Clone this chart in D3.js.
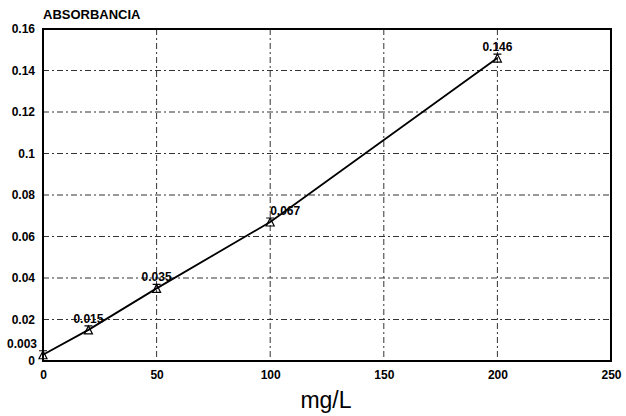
<!DOCTYPE html>
<html>
<head>
<meta charset="utf-8">
<script src="https://cdn.jsdelivr.net/npm/d3@7"></script>
<style>
  body { margin: 0; background: #fff; }
  svg { display: block; font-family: Arial, "Liberation Sans", sans-serif; }
</style>
</head>
<body>
<svg id="chart" width="626" height="416"></svg>
<script>
// data
const conc = [0, 20, 50, 100, 200];          // mg/L
const absorb = [0.003, 0.015, 0.035, 0.067, 0.146];
const pointLabels = ['0.003', '0.015', '0.035', '0.067', '0.146'];
const xTicks = [0, 50, 100, 150, 200, 250];
const yTicks = [0, 0.02, 0.04, 0.06, 0.08, 0.1, 0.12, 0.14, 0.16];

const svg = d3.select('#chart');
const plotLeft = 43, plotRight = 611, plotTop = 29, plotBottom = 361;

const x = d3.scaleLinear().domain([0, 250]).range([plotLeft, plotRight]);
const y = d3.scaleLinear().domain([0, 0.16]).range([plotBottom, plotTop]);

// grid
svg.append('g').selectAll('line').data(yTicks.slice(1, -1)).join('line')
	.attr('x1', plotLeft).attr('x2', plotRight)
	.attr('y1', d => y(d)).attr('y2', d => y(d))
	.attr('stroke', '#333').attr('stroke-width', 1).attr('stroke-dasharray', '6,3,2,3');
svg.append('g').selectAll('line').data(xTicks.slice(1, -1)).join('line')
	.attr('y1', plotTop).attr('y2', plotBottom)
	.attr('x1', d => x(d)).attr('x2', d => x(d))
	.attr('stroke', '#333').attr('stroke-width', 1).attr('stroke-dasharray', '6,3,2,3');

// frame
svg.append('rect')
	.attr('x', plotLeft).attr('y', plotTop).attr('width', plotRight - plotLeft).attr('height', plotBottom - plotTop)
	.attr('fill', 'none').attr('stroke', '#000').attr('stroke-width', 2);

// axes (labels only)
const yAxis = svg.append('g').attr('transform', `translate(${plotLeft},0)`)
	.call(d3.axisLeft(y).tickValues(yTicks).tickSize(0).tickPadding(8)
		.tickFormat(d => d === 0 ? '0' : String(+d.toFixed(2))));
const xAxis = svg.append('g').attr('transform', `translate(0,${plotBottom})`)
	.call(d3.axisBottom(x).tickValues(xTicks).tickSize(0).tickPadding(9));
[yAxis, xAxis].forEach(a => {
	a.select('.domain').remove();
	a.selectAll('text').attr('font-size', 12).attr('font-weight', 'bold').attr('fill', '#000')
		.attr('font-family', 'Arial, "Liberation Sans", sans-serif');
});

// line
const line = d3.line().x((d, i) => x(conc[i])).y(d => y(d));
svg.append('path').datum(absorb)
	.attr('d', line).attr('fill', 'none').attr('stroke', '#000').attr('stroke-width', 1.8);

// markers
svg.append('g').selectAll('path').data(absorb).join('path')
	.attr('transform', (d, i) => `translate(${x(conc[i])},${y(d)})`)
	.attr('d', 'M-4,4 L4,4 L0,-4 Z M-4,-4 L4,-4')
	.attr('fill', 'none').attr('stroke', '#000').attr('stroke-width', 1.2);

// point labels
const labelDx = [-21, 0, 0, 15, 0];
svg.append('g').selectAll('text').data(absorb).join('text')
	.attr('x', (d, i) => x(conc[i]) + labelDx[i])
	.attr('y', d => y(d) - 7)
	.attr('text-anchor', 'middle')
	.attr('font-size', 12).attr('font-weight', 'bold')
	.text((d, i) => pointLabels[i]);

// titles
svg.append('text').attr('x', plotLeft).attr('y', 19)
	.attr('font-size', 13).attr('font-weight', 'bold').text('ABSORBANCIA');
svg.append('text').attr('x', 326).attr('y', 408).attr('text-anchor', 'middle')
	.attr('font-size', 23).text('mg/L');
</script>
</body>
</html>
